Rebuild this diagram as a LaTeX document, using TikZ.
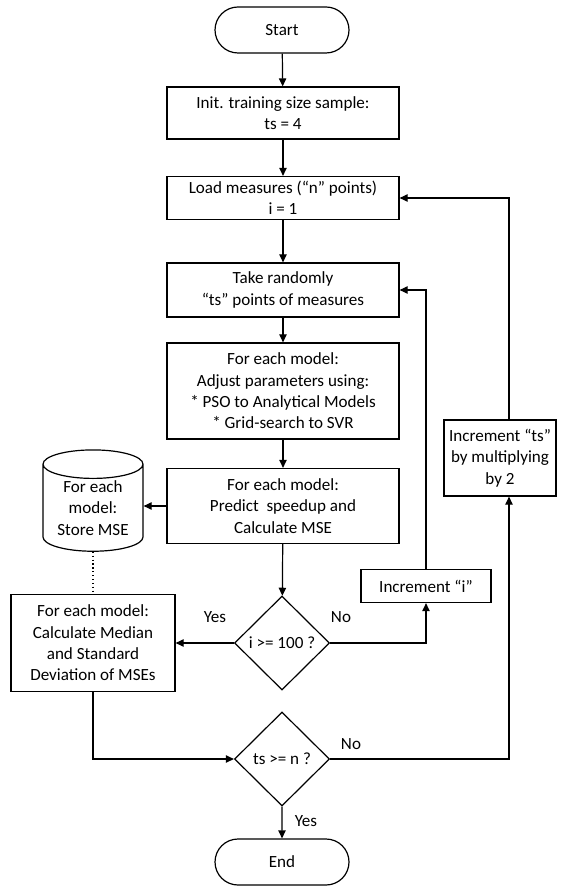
\documentclass[tikz,border=0pt]{standalone}
\usepackage{fontspec}
\setmainfont{Carlito}
\usetikzlibrary{shapes,arrows.meta,calc,positioning}

\begin{document}
\begin{tikzpicture}[x=0.75pt,y=-0.75pt,line width=0.9pt,
	every node/.style={font=\fontsize{12.8}{16}\selectfont,align=center,inner sep=0pt},
	box/.style={rectangle,draw},
	term/.style={rounded rectangle,draw,minimum width=100.5pt,minimum height=34.5pt},
	test/.style={diamond,draw,minimum width=71.25pt,minimum height=70.5pt},
	store/.style={cylinder,shape border rotate=90,shape aspect=0.4,draw,minimum width=75pt,minimum height=76pt},
	flow/.style={-{Triangle[length=6pt,width=5.5pt]}}]
\useasboundingbox (0,0) rectangle (565,887);
\node[term] at (282,30)	(0) {Start};
\node[box,minimum width=174pt,minimum height=39pt] at (283,113)	(1) {Init. training size sample:\\ts = 4};
\node[box,minimum width=174pt,minimum height=32.25pt] at (283,198)	(2) {Load measures (“n” points)\\i = 1};
\node[box,minimum width=174pt,minimum height=40.5pt] at (283,290)	(3) {Take randomly\\“ts” points of measures};
\node[box,minimum width=174pt,minimum height=72pt] at (283,391)	(4) {For each model:\\Adjust parameters using:\\* PSO to Analytical Models\\* Grid-search to SVR};
\node[box,minimum width=174pt,minimum height=56.25pt] at (283,506)	(5) {For each model:\\Predict\ \ speedup and\\Calculate MSE};
\node[store] at (93,508)	(6) {For each\\model:\\Store MSE};
\node[box,minimum width=123pt,minimum height=72.75pt] at (93,643)	(7) {For each model:\\Calculate Median\\and Standard\\Deviation of MSEs};
\node[test] at (282,643)	(8) {i >= 100 ?};
\node[box,minimum width=97.5pt,minimum height=24.75pt] at (426,586)	(9) {Increment “i”};
\node[test] at (282,759)	(10) {ts >= n ?};
\node[box,minimum width=84pt,minimum height=57pt] at (500,458)	(11) {Increment “ts”\\by multiplying\\by 2};
\node[term] at (282,862)	(12) {End};

\node at (215,617)	(13) {Yes};
\node at (341,617)	(14) {No};
\node at (351,744)	(15) {No};
\node at (306,821)	(16) {Yes};

\draw[flow] (0) -- (1);
\draw[flow] (1) -- (2);
\draw[flow] (2) -- (3);
\draw[flow] (3) -- (4);
\draw[flow] (4) -- (5);
\draw[flow] (5.west) -- (5.west -| 6.east);
\draw[dotted] (6) -- (7);
\draw[flow] (5) -- (8);
\draw[flow] (8) -- (7);
\draw[flow] (8.east) -| (9.south);
\draw[flow] (9.north) |- (3.east);
\draw[flow] (7.south) |- (10.west);
\draw[flow] (10.east) -| ([xshift=6.75pt]11.south);
\draw[flow] ([xshift=6.75pt]11.north) |- (2.east);
\draw[flow] (10) -- (12);
\end{tikzpicture}
\end{document}
